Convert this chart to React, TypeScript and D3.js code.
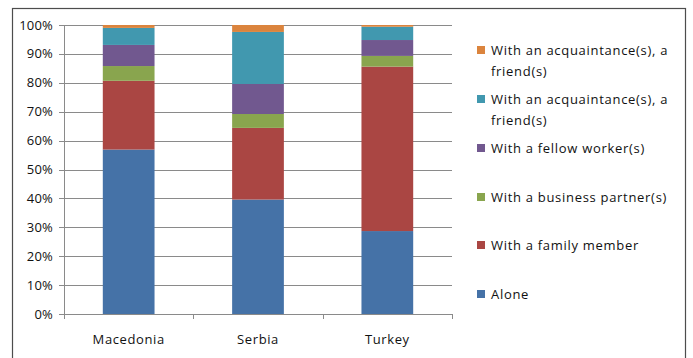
import React from "react";
import * as d3 from "d3";

// Share of respondents (%) by company, stacked bottom to top
const countries = ["Macedonia", "Serbia", "Turkey"];
const alone = [56.9, 39.6, 28.7];
const familyMember = [23.8, 24.8, 56.9];
const businessPartner = [5.1, 4.8, 3.7];
const fellowWorker = [7.3, 10.4, 5.5];
const acquaintanceA = [5.9, 18.0, 4.6];
const acquaintanceB = [1.0, 2.4, 0.6];

const seriesNames = [
  "Alone",
  "With a family member",
  "With a business partner(s)",
  "With a fellow worker(s)",
  "With an acquaintance(s), a friend(s)",
  "With an acquaintance(s), a friend(s)",
];
const seriesValues = [alone, familyMember, businessPartner, fellowWorker, acquaintanceA, acquaintanceB];
const seriesColors = ["#4572A7", "#AA4643", "#89A54E", "#71588F", "#4198AF", "#DB843D"];
const yTicks = [0, 10, 20, 30, 40, 50, 60, 70, 80, 90, 100];

const W = 693;
const H = 358;
const plot = { left: 64, right: 452, top: 25, bottom: 314 };
const FONT = "'Open Sans', sans-serif";

export default function App() {
  const x = d3.scaleBand<string>().domain(countries).range([plot.left, plot.right]).paddingInner(0.6).paddingOuter(0.3);
  const y = d3.scaleLinear().domain([0, 100]).range([plot.bottom, plot.top]);

  const rows = countries.map((c, i) => {
    const r: Record<string, number | string> = { country: c };
    seriesValues.forEach((vals, k) => (r["s" + k] = vals[i]));
    return r;
  });
  const keys = seriesValues.map((_, k) => "s" + k);
  const stacked = d3.stack<Record<string, number | string>>().keys(keys)(rows as any);

  const step = (plot.right - plot.left) / countries.length;
  const catTicks = d3.range(countries.length + 1).map((i) => plot.left + i * step);

  // legend, listed top to bottom from the last series to the first
  const legendOrder = d3.range(seriesNames.length).reverse();
  const legendY = [50, 99, 148, 197, 245, 294];
  const splitLabel = (s: string) => {
    const idx = s.indexOf(", a ");
    return idx >= 0 ? [s.slice(0, idx + 3), s.slice(idx + 4)] : [s];
  };

  return (
    <svg width={W} height={H} style={{ position: "absolute", left: 0, top: 0, background: "#fff" }} fontFamily={FONT}>
      <rect x={12.5} y={8.5} width={673} height={360} fill="#fff" stroke="#4d4d4d" strokeWidth={1.2} />
      {/* gridlines */}
      {yTicks.map((t) => (
        <g key={t}>
          <line x1={plot.left - 5} x2={plot.right} y1={Math.round(y(t)) + 0.5} y2={Math.round(y(t)) + 0.5} stroke="#8a8a8a" strokeWidth={1} />
          <text x={53} y={y(t)} dy="0.35em" textAnchor="end" fontSize={13} fill="#111" letterSpacing={0.2}>
            {t}%
          </text>
        </g>
      ))}
      <line x1={plot.left + 0.5} x2={plot.left + 0.5} y1={plot.top} y2={plot.bottom} stroke="#8a8a8a" />
      {catTicks.map((cx, i) => (
        <line key={i} x1={Math.round(cx) + 0.5} x2={Math.round(cx) + 0.5} y1={plot.bottom} y2={plot.bottom + 5} stroke="#8a8a8a" />
      ))}
      {/* stacked bars */}
      {stacked.map((layer, k) => (
        <g key={k} fill={seriesColors[k]}>
          {layer.map((d, i) => (
            <rect key={i} x={x(countries[i])!} width={x.bandwidth()} y={y(d[1])} height={y(d[0]) - y(d[1])} />
          ))}
        </g>
      ))}
      {countries.map((c) => (
        <text key={c} x={x(c)! + x.bandwidth() / 2} y={344} textAnchor="middle" fontSize={13} fill="#111" letterSpacing={0.6}>
          {c}
        </text>
      ))}
      {/* legend */}
      {legendOrder.map((k, j) => {
        const lines = splitLabel(seriesNames[k]);
        return (
          <g key={k}>
            <rect x={477} y={legendY[j] - 4} width={8} height={8} fill={seriesColors[k]} />
            {lines.map((ln, li) => (
              <text key={li} x={491} y={legendY[j] + li * 21} dy="0.35em" fontSize={13} fill="#111" letterSpacing={0.7}>
                {ln}
              </text>
            ))}
          </g>
        );
      })}
    </svg>
  );
}
